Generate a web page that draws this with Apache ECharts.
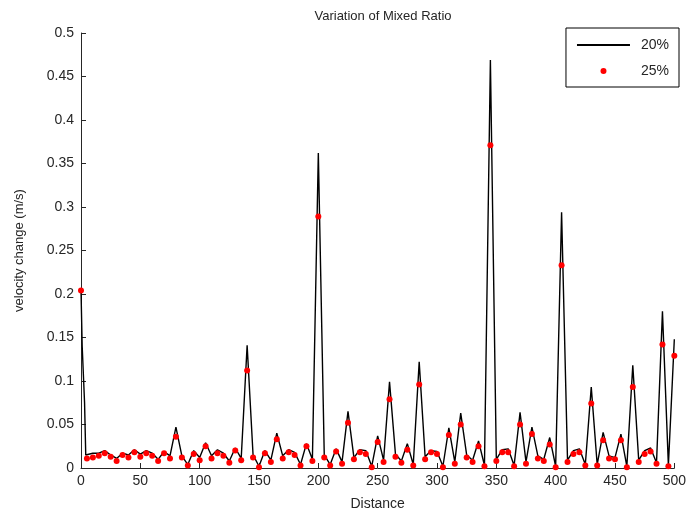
<!DOCTYPE html>
<html>
<head>
<meta charset="utf-8">
<script src="https://cdn.jsdelivr.net/npm/echarts@6/dist/echarts.min.js"></script>
<style>
  html, body { margin: 0; padding: 0; background: #fff; }
  #chart { width: 689px; height: 516px; }
</style>
</head>
<body>
<div id="chart"></div>
<script>
// 20% series: black line (distance, velocity change)
const lineDist = [0, 1, 3, 4,
  5, 10, 15, 20, 25, 30, 35, 40, 45, 50, 55, 60, 65, 70, 75, 80, 85, 90, 95, 100,
  105, 110, 115, 120, 125, 130, 135, 140, 145, 150, 155, 160, 165, 170, 175, 180, 185, 190, 195, 200,
  205, 210, 215, 220, 225, 230, 235, 240, 245, 250, 255, 260, 265, 270, 275, 280, 285, 290, 295, 300,
  305, 310, 315, 320, 325, 330, 335, 340, 345, 350, 355, 360, 365, 370, 375, 380, 385, 390, 395, 400,
  405, 410, 415, 420, 425, 430, 435, 440, 445, 450, 455, 460, 465, 470, 475, 480, 485, 490, 495, 500]
const lineVel = [0.205, 0.14, 0.075, 0.015,
  0.016, 0.017, 0.017, 0.020, 0.015, 0.011, 0.017, 0.015, 0.021, 0.016, 0.020, 0.017, 0.010, 0.019, 0.014, 0.047, 0.014, 0.004, 0.020, 0.012,
  0.029, 0.014, 0.021, 0.017, 0.008, 0.023, 0.011, 0.141, 0.015, 0.002, 0.020, 0.009, 0.040, 0.014, 0.021, 0.018, 0.004, 0.028, 0.010, 0.362,
  0.015, 0.004, 0.022, 0.007, 0.065, 0.012, 0.021, 0.020, 0.002, 0.037, 0.009, 0.099, 0.016, 0.008, 0.028, 0.004, 0.122, 0.013, 0.020, 0.019,
  0.002, 0.046, 0.007, 0.063, 0.015, 0.009, 0.031, 0.003, 0.469, 0.010, 0.021, 0.022, 0.003, 0.064, 0.007, 0.047, 0.014, 0.010, 0.035, 0.002,
  0.294, 0.009, 0.020, 0.022, 0.004, 0.093, 0.004, 0.041, 0.014, 0.012, 0.039, 0.002, 0.118, 0.009, 0.020, 0.023, 0.006, 0.180, 0.003, 0.148]

// 25% series: red dots every 5 units of distance
const dotDist = []
for (let d = 0; d <= 500; d += 5) dotDist.push(d)
const dotVel = [0.204,
  0.011, 0.012, 0.014, 0.017, 0.013, 0.008, 0.015, 0.012, 0.018, 0.013, 0.017, 0.014, 0.008, 0.017, 0.011, 0.036, 0.012, 0.003, 0.016, 0.009,
  0.025, 0.011, 0.017, 0.014, 0.006, 0.020, 0.009, 0.112, 0.012, 0.001, 0.017, 0.007, 0.033, 0.011, 0.018, 0.015, 0.003, 0.025, 0.008, 0.289,
  0.012, 0.003, 0.019, 0.005, 0.052, 0.010, 0.018, 0.016, 0.001, 0.030, 0.007, 0.079, 0.013, 0.006, 0.021, 0.003, 0.096, 0.010, 0.018, 0.016,
  0.001, 0.038, 0.005, 0.050, 0.012, 0.007, 0.025, 0.002, 0.371, 0.008, 0.018, 0.018, 0.002, 0.050, 0.005, 0.039, 0.011, 0.008, 0.027, 0.001,
  0.233, 0.007, 0.016, 0.018, 0.003, 0.074, 0.003, 0.032, 0.011, 0.010, 0.032, 0.001, 0.093, 0.007, 0.016, 0.019, 0.005, 0.142, 0.002, 0.129]

const yTicks = ['0', '0.05', '0.1', '0.15', '0.2', '0.25', '0.3', '0.35', '0.4', '0.45', '0.5']

const font = 'Liberation Sans, Arial, sans-serif'
const axisColor = '#262626'

const chart = echarts.init(document.getElementById('chart'))

chart.setOption({
  backgroundColor: '#fff',
  animation: false,
  title: {
    text: 'Variation of Mixed Ratio',
    left: 378,
    top: 5,
    textAlign: 'center',
    textStyle: { fontFamily: font, fontSize: 13, fontWeight: 'normal', color: axisColor }
  },
  legend: {
    orient: 'vertical',
    right: 10,
    top: 28,
    itemWidth: 53,
    itemHeight: 6,
    itemGap: 12,
    padding: [10, 10, 9, 10],
    borderColor: '#000',
    borderWidth: 1,
    textStyle: { fontFamily: font, fontSize: 14, color: axisColor, padding: [0, 0, 0, 6] },
    data: [{ name: '20%', itemStyle: { opacity: 0 } }, '25%']
  },
  grid: { left: 81, right: 14, top: 33, bottom: 47 },
  xAxis: {
    type: 'value',
    min: 0,
    max: 500,
    interval: 50,
    name: 'Distance',
    nameLocation: 'middle',
    nameGap: 29,
    nameTextStyle: { fontFamily: font, fontSize: 14, color: axisColor },
    axisLine: { lineStyle: { color: axisColor, width: 1 } },
    axisTick: { inside: true, length: 5, lineStyle: { color: axisColor } },
    axisLabel: { fontFamily: font, fontSize: 14, color: axisColor, margin: 6 },
    splitLine: { show: false }
  },
  yAxis: {
    type: 'value',
    min: 0,
    max: 0.5,
    interval: 0.05,
    name: 'velocity change (m/s)',
    nameLocation: 'middle',
    nameGap: 55,
    nameTextStyle: { fontFamily: font, fontSize: 13, color: axisColor },
    axisLine: { show: true, lineStyle: { color: axisColor, width: 1 } },
    axisTick: { show: true, inside: true, length: 5, lineStyle: { color: axisColor } },
    axisLabel: {
      fontFamily: font, fontSize: 14, color: axisColor, margin: 7,
      formatter: (v) => yTicks[Math.round(v / 0.05)]
    },
    splitLine: { show: false }
  },
  series: [
    {
      name: '20%',
      type: 'line',
      data: lineDist.map((d, i) => [d, lineVel[i]]),
      showSymbol: false,
      symbol: 'none',
      lineStyle: { color: '#000', width: 1.4 },
      itemStyle: { color: '#000' },
      z: 2
    },
    {
      name: '25%',
      type: 'scatter',
      data: dotDist.map((d, i) => [d, dotVel[i]]),
      symbol: 'circle',
      symbolSize: 6,
      itemStyle: { color: '#ff0000', opacity: 1 },
      z: 3
    }
  ]
})
</script>
</body>
</html>
